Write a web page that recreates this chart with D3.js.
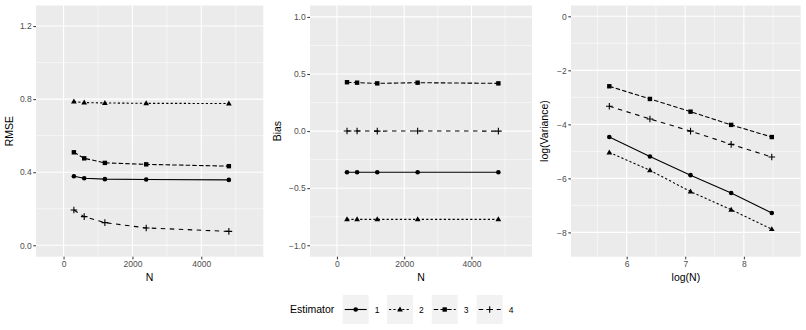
<!DOCTYPE html>
<html><head><meta charset="utf-8">
<script src="https://cdn.jsdelivr.net/npm/d3@7"></script>
<style>body{margin:0;background:#fff}svg{display:block}</style>
</head><body>
<svg id="c" width="806" height="330"></svg>
<script>
// ---- data ----
const N = [300, 600, 1200, 2400, 4800];
const estimators = ["1", "2", "3", "4"];
const rmse1 = [0.378, 0.367, 0.362, 0.360, 0.358];
const rmse2 = [0.787, 0.781, 0.779, 0.777, 0.776];
const rmse3 = [0.509, 0.476, 0.451, 0.443, 0.433];
const rmse4 = [0.193, 0.157, 0.124, 0.095, 0.076];
const bias1 = [-0.361, -0.361, -0.361, -0.361, -0.361];
const bias2 = [-0.773, -0.773, -0.773, -0.773, -0.773];
const bias3 = [0.428, 0.424, 0.418, 0.424, 0.418];
const bias4 = [0.001, 0.001, 0.000, 0.001, 0.000];
const logvar1 = [-4.47, -5.19, -5.88, -6.54, -7.28];
const logvar2 = [-5.04, -5.70, -6.49, -7.16, -7.88];
const logvar3 = [-2.59, -3.06, -3.53, -4.02, -4.47];
const logvar4 = [-3.33, -3.80, -4.25, -4.74, -5.21];
const xTicksN = [0, 2000, 4000];
const xTicksLogN = [6, 7, 8];
const yTicksRMSE = [0.0, 0.4, 0.8, 1.2];
const yTicksBias = [-1.0, -0.5, 0.0, 0.5, 1.0];
const yTicksLogVar = [-8, -6, -4, -2, 0];

const svg = d3.select("#c");
const FONT = "'Liberation Sans', Arial, Helvetica, sans-serif";
const dashes = ["", "2.2,2.2", "4.5,2.2", "4.5,4.5"];
const shapes = ["circle", "triangle", "square", "plus"];

function drawShape(g, shape, x, y) {
  if (shape === "circle") {
    g.append("circle").attr("cx", x).attr("cy", y).attr("r", 2.3).attr("fill", "#000");
  } else if (shape === "triangle") {
    const s = 3.0;
    g.append("path").attr("d", `M${x},${y - s}L${x + s * 0.95},${y + s * 0.65}L${x - s * 0.95},${y + s * 0.65}Z`).attr("fill", "#000");
  } else if (shape === "square") {
    g.append("rect").attr("x", x - 2.2).attr("y", y - 2.2).attr("width", 4.4).attr("height", 4.4).attr("fill", "#000");
  } else {
    const s = 3.3;
    g.append("path").attr("d", `M${x - s},${y}H${x + s}M${x},${y - s}V${y + s}`).attr("stroke", "#000").attr("stroke-width", 1.1).attr("fill", "none");
  }
}

function panel(opt) {
  const {x0, x1, y0, y1, xDomain, yDomain, xTicks, xMinor, yTicks, yMinor, xs, series, yTitle, xTitle, yTitleX, yFmt} = opt;
  const x = d3.scaleLinear().domain(xDomain).range([x0, x1]);
  const y = d3.scaleLinear().domain(yDomain).range([y1, y0]);
  const g = svg.append("g");
  g.append("rect").attr("x", x0).attr("y", y0).attr("width", x1 - x0).attr("height", y1 - y0).attr("fill", "#EBEBEB");
  yMinor.forEach(v => g.append("line").attr("x1", x0).attr("x2", x1).attr("y1", y(v)).attr("y2", y(v)).attr("stroke", "#fff").attr("stroke-width", 0.55));
  xMinor.forEach(v => g.append("line").attr("y1", y0).attr("y2", y1).attr("x1", x(v)).attr("x2", x(v)).attr("stroke", "#fff").attr("stroke-width", 0.55));
  yTicks.forEach(v => g.append("line").attr("x1", x0).attr("x2", x1).attr("y1", y(v)).attr("y2", y(v)).attr("stroke", "#fff").attr("stroke-width", 1.1));
  xTicks.forEach(v => g.append("line").attr("y1", y0).attr("y2", y1).attr("x1", x(v)).attr("x2", x(v)).attr("stroke", "#fff").attr("stroke-width", 1.1));
  const ya = d3.axisLeft(y).tickValues(yTicks).tickSize(2.7).tickPadding(1.6).tickFormat(yFmt);
  const ga = svg.append("g").attr("transform", `translate(${x0},0)`).call(ya);
  const xa = d3.axisBottom(x).tickValues(xTicks).tickSize(2.7).tickPadding(1.6).tickFormat(d3.format("d"));
  const gb = svg.append("g").attr("transform", `translate(0,${y1})`).call(xa);
  [ga, gb].forEach(a => {
    a.select(".domain").remove();
    a.selectAll(".tick line").attr("stroke", "#333333").attr("stroke-width", 1);
    a.selectAll(".tick text").attr("fill", "#4D4D4D").style("font-family", FONT).style("font-size", "8.5px");
  });
  svg.append("text").attr("x", (x0 + x1) / 2).attr("y", 281).attr("text-anchor", "middle")
    .style("font-family", FONT).style("font-size", "10.5px").attr("fill", "#000").text(xTitle);
  svg.append("text").attr("transform", `translate(${yTitleX},${(y0 + y1) / 2}) rotate(-90)`).attr("text-anchor", "middle")
    .style("font-family", FONT).style("font-size", "10.5px").attr("fill", "#000").text(yTitle);
  const sg = g.append("g");
  series.forEach((vals, i) => {
    const line = d3.line().x((d, j) => x(xs[j])).y(d => y(d));
    sg.append("path").datum(vals).attr("d", line).attr("fill", "none").attr("stroke", "#000")
      .attr("stroke-width", 1.1).attr("stroke-dasharray", dashes[i]);
    vals.forEach((v, j) => drawShape(sg, shapes[i], x(xs[j]), y(v)));
  });
}

const Y0 = 5.5, Y1 = 256.7;
panel({x0: 36, x1: 263.3, y0: Y0, y1: Y1, xDomain: [-800, 5800], yDomain: [-0.0625, 1.3125],
  xTicks: xTicksN, xMinor: [1000, 3000, 5000], yTicks: yTicksRMSE, yMinor: [0.2, 0.6, 1.0],
  xs: N, series: [rmse1, rmse2, rmse3, rmse4], yTitle: "RMSE", xTitle: "N", yTitleX: 13, yFmt: d3.format(".1f")});
panel({x0: 310, x1: 532, y0: Y0, y1: Y1, xDomain: [-800, 5800], yDomain: [-1.1, 1.1],
  xTicks: xTicksN, xMinor: [1000, 3000, 5000], yTicks: yTicksBias, yMinor: [-0.75, -0.25, 0.25, 0.75],
  xs: N, series: [bias1, bias2, bias3, bias4], yTitle: "Bias", xTitle: "N", yTitleX: 281, yFmt: d => d3.format(".1f")(d).replace("-", "\u2212")});
panel({x0: 571, x1: 800.7, y0: Y0, y1: Y1, xDomain: [5.05, 8.97], yDomain: [-8.9, 0.4],
  xTicks: xTicksLogN, xMinor: [5.5, 6.5, 7.5, 8.5], yTicks: yTicksLogVar, yMinor: [-7, -5, -3, -1],
  xs: N.map(n => Math.log(n)), series: [logvar1, logvar2, logvar3, logvar4], yTitle: "log(Variance)", xTitle: "log(N)", yTitleX: 548,
  yFmt: d => String(d).replace("-", "\u2212")});

const leg = svg.append("g");
leg.append("text").attr("x", 290).attr("y", 313).style("font-family", FONT).style("font-size", "10.5px").attr("fill", "#000").text("Estimator");
const keyX = [342.7, 387, 431.7, 476.7];
estimators.forEach((e, i) => {
  const kx = keyX[i], ky = 295, kw = 26, kh = 29;
  leg.append("rect").attr("x", kx).attr("y", ky).attr("width", kw).attr("height", kh).attr("fill", "#F2F2F2");
  leg.append("line").attr("x1", kx + 2).attr("x2", kx + kw - 2).attr("y1", ky + kh / 2).attr("y2", ky + kh / 2)
    .attr("stroke", "#000").attr("stroke-width", 1.1).attr("stroke-dasharray", dashes[i]);
  drawShape(leg, shapes[i], kx + kw / 2, ky + kh / 2);
  leg.append("text").attr("x", kx + kw + 6).attr("y", ky + kh / 2 + 3).style("font-family", FONT).style("font-size", "8.5px")
    .attr("fill", "#000").text(e);
});
</script>
</body></html>
